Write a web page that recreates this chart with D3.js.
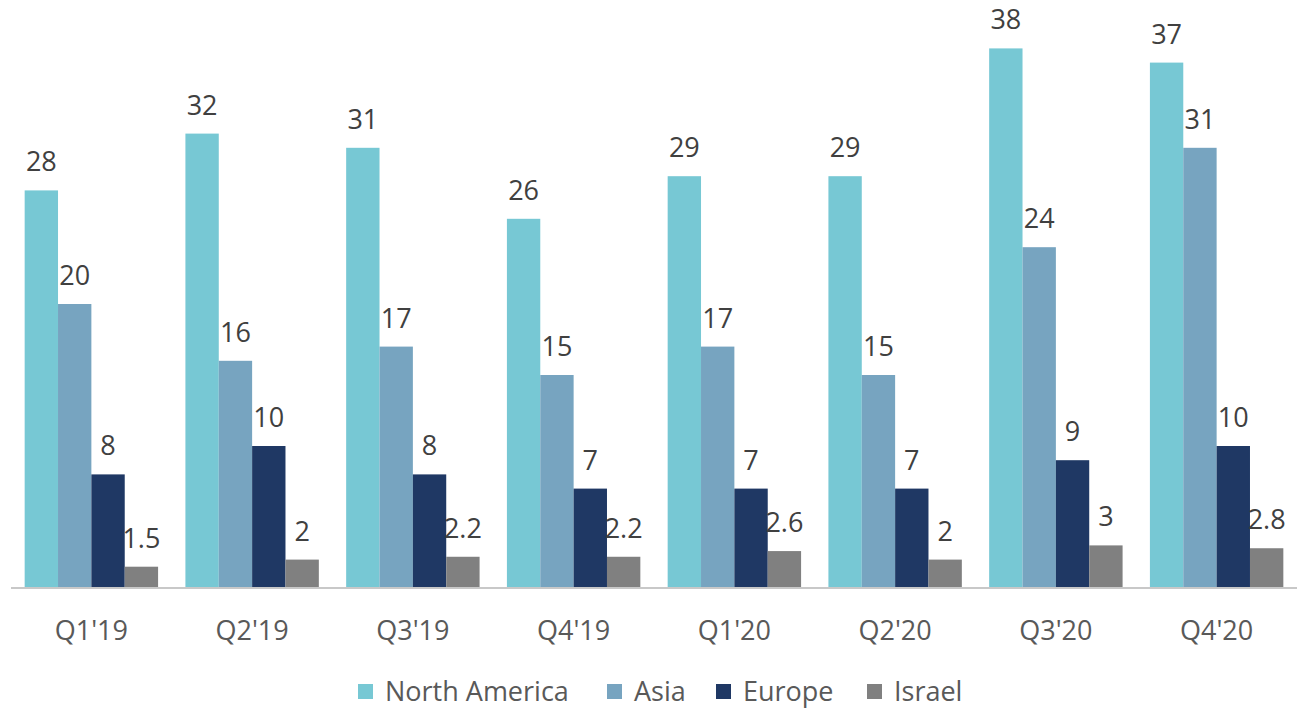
<!DOCTYPE html>
<html><head><meta charset="utf-8">
<script src="https://cdn.jsdelivr.net/npm/d3@7"></script>
<style>body{margin:0;background:#fff}svg{display:block}</style>
</head><body><svg id="c" width="1304" height="709"></svg>
<script>
const categories = ["Q1'19","Q2'19","Q3'19","Q4'19","Q1'20","Q2'20","Q3'20","Q4'20"];
const seriesNames = ["North America","Asia","Europe","Israel"];
const northAmerica = [28,32,31,26,29,29,38,37];
const asia = [20,16,17,15,17,15,24,31];
const europe = [8,10,8,7,7,7,9,10];
const israel = [1.5,2,2.2,2.2,2.6,2,3,2.8];
const colors = ["#77C8D4","#77A4C0","#1F3864","#808080"];

const seriesValues = [northAmerica, asia, europe, israel];
const svg = d3.select("#c");
const font = "'Open Sans', sans-serif";

const x = d3.scaleBand().domain(categories).range([11,1297]).paddingInner(0.17).paddingOuter(0.085);
const xs = d3.scaleBand().domain(seriesNames).range([0, x.bandwidth()]);
const y = d3.scaleLinear().domain([0,40]).range([588,20]);

const g = svg.append("g");
categories.forEach((c,i)=>{
  seriesNames.forEach((s,j)=>{
    const v = seriesValues[j][i];
    const bx = x(c)+xs(s);
    g.append("rect").attr("x",bx).attr("y",y(v)).attr("width",xs.bandwidth()).attr("height",y(0)-y(v)).attr("fill",colors[j]);
    g.append("text").attr("x",bx+xs.bandwidth()/2).attr("y",y(v)-19).attr("text-anchor","middle")
      .attr("font-family",font).attr("font-size",27).attr("fill","#404040").text(v);
  });
});

// axis
const ax = svg.append("g").attr("transform","translate(0,588)").call(d3.axisBottom(x).tickSize(0).tickPadding(0));
ax.select(".domain").attr("stroke","#C8C8C8").attr("stroke-width",2).attr("d","M11,0H1297");
ax.selectAll("text").attr("font-family",font).attr("font-size",27).attr("fill","#595959").attr("dy",null).attr("y",52);

// legend
const legend = svg.append("g").attr("transform","translate(0,691)");
const starts = [358,607,716,867];
seriesNames.forEach((s,j)=>{
  legend.append("rect").attr("x",starts[j]).attr("y",-7).attr("width",15).attr("height",15).attr("fill",colors[j]);
  legend.append("text").attr("x",starts[j]+27).attr("y",10).attr("font-family",font).attr("font-size",27).attr("fill","#595959").text(s);
});
</script></body></html>
